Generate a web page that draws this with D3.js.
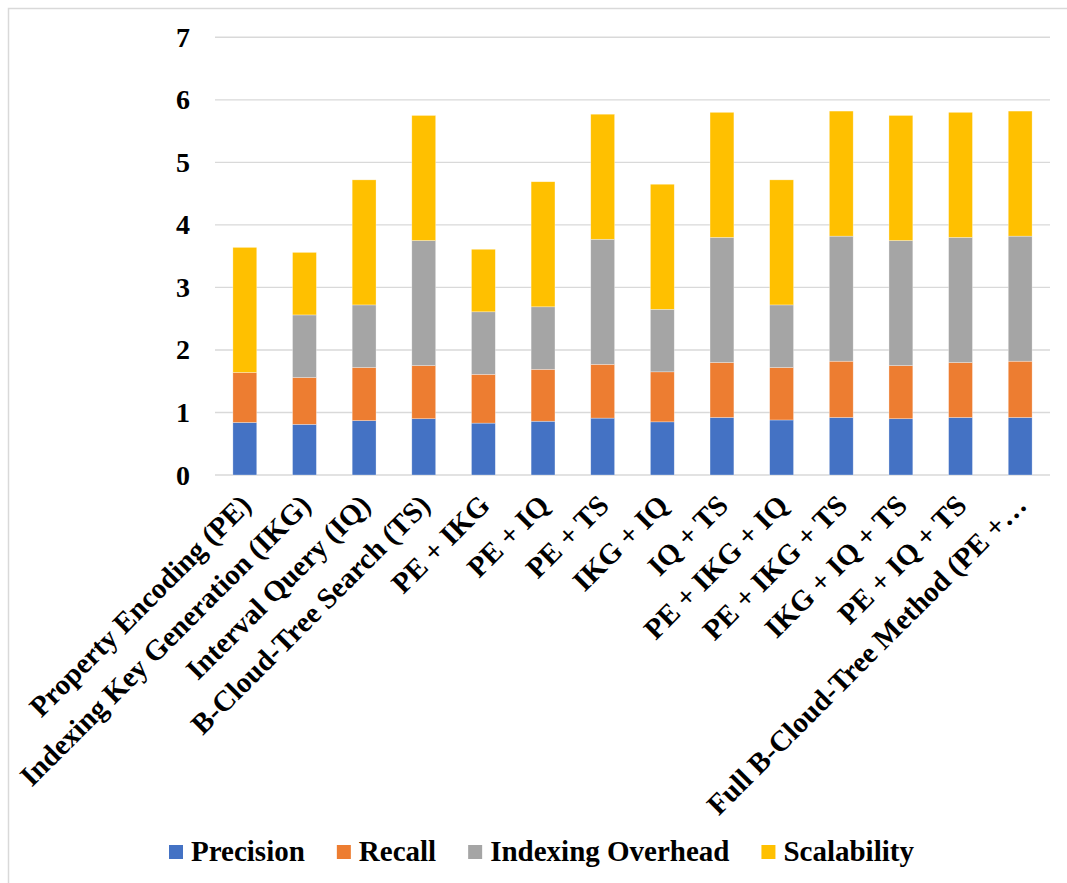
<!DOCTYPE html>
<html>
<head>
<meta charset="utf-8">
<script src="https://cdn.jsdelivr.net/npm/d3@7/dist/d3.min.js"></script>
<style>
  body { margin: 0; background: #fff; }
  svg text { font-family: "Liberation Serif", "Times New Roman", serif; font-weight: bold; fill: #000; }
</style>
</head>
<body>
<svg id="chart" width="1067" height="883"></svg>
<script>
// categories along the x axis
var categories = [
  "Property Encoding (PE)",
  "Indexing Key Generation (IKG)",
  "Interval Query (IQ)",
  "B-Cloud-Tree Search (TS)",
  "PE + IKG",
  "PE + IQ",
  "PE + TS",
  "IKG + IQ",
  "IQ + TS",
  "PE + IKG + IQ",
  "PE + IKG + TS",
  "IKG + IQ + TS",
  "PE + IQ + TS",
  "Full B-Cloud-Tree Method (PE + IKG + IQ + TS)"
];

// series
var precision   = [0.84, 0.81, 0.87, 0.90, 0.83, 0.86, 0.91, 0.85, 0.92, 0.88, 0.92, 0.90, 0.92, 0.92];
var recall      = [0.80, 0.75, 0.85, 0.85, 0.78, 0.83, 0.86, 0.80, 0.88, 0.84, 0.90, 0.85, 0.88, 0.90];
var overhead    = [0, 1, 1, 2, 1, 1, 2, 1, 2, 1, 2, 2, 2, 2];
var scalability = [2, 1, 2, 2, 1, 2, 2, 2, 2, 2, 2, 2, 2, 2];

var seriesNames = ["Precision", "Recall", "Indexing Overhead", "Scalability"];
var seriesColors = ["#4472C4", "#ED7D31", "#A5A5A5", "#FFC000"];
var yTicks = [0, 1, 2, 3, 4, 5, 6, 7];

var svg = d3.select("#chart");
var fontSize = 29;

// outer chart border (only left/top visible in the frame)
svg.append("rect")
    .attr("x", 8.5).attr("y", 8.5)
    .attr("width", 1090).attr("height", 900)
    .attr("fill", "none")
    .attr("stroke", "#d9d9d9")
    .attr("stroke-width", 1.5);

var x = d3.scaleBand()
    .domain(categories)
    .range([215, 1050])
    .paddingInner(0.6)
    .paddingOuter(0.3);

var y = d3.scaleLinear()
    .domain([0, 7])
    .range([475, 37.3]);

// build rows for the stack
var rows = categories.map(function(c, i) {
  return {
    cat: c,
    "Precision": precision[i],
    "Recall": recall[i],
    "Indexing Overhead": overhead[i],
    "Scalability": scalability[i]
  };
});

var stacked = d3.stack().keys(seriesNames)(rows);

// gridlines
svg.append("g").selectAll("line")
    .data(yTicks)
  .enter().append("line")
    .attr("x1", 215).attr("x2", 1050)
    .attr("y1", function(d) { return y(d); })
    .attr("y2", function(d) { return y(d); })
    .attr("stroke", "#d9d9d9")
    .attr("stroke-width", 1.4);

// y tick labels
svg.append("g").selectAll("text")
    .data(yTicks)
  .enter().append("text")
    .attr("x", 190)
    .attr("y", function(d) { return y(d); })
    .attr("dy", "0.34em")
    .attr("text-anchor", "end")
    .style("font-size", "28px")
    .text(function(d) { return d; });

// bars
svg.append("g").selectAll("g")
    .data(stacked)
  .enter().append("g")
    .attr("fill", function(d, i) { return seriesColors[i]; })
  .selectAll("rect")
    .data(function(d) { return d; })
  .enter().append("rect")
    .attr("x", function(d) { return x(d.data.cat); })
    .attr("width", x.bandwidth())
    .attr("y", function(d) { return y(d[1]); })
    .attr("height", function(d) { return y(d[0]) - y(d[1]); })
    .attr("stroke", "#ffffff")
    .attr("stroke-opacity", 0.5)
    .attr("stroke-width", 0.6);

// Excel cuts long labels short with an ellipsis
function shortLabel(s) {
  return s.length > 32 ? s.slice(0, 30) + "\u2026" : s;
}

// rotated category labels
svg.append("g").selectAll("text")
    .data(categories)
  .enter().append("text")
    .attr("transform", function(d) {
      var cx = x(d) + x.bandwidth() / 2;
      return "translate(" + (cx + 8) + ",507) rotate(-45)";
    })
    .attr("text-anchor", "end")
    .style("font-size", fontSize + "px")
    .text(function(d) { return shortLabel(d); });

// legend
var legend = svg.append("g");
var lx = 169;
seriesNames.forEach(function(name, i) {
  legend.append("rect")
      .attr("x", lx).attr("y", 845)
      .attr("width", 14).attr("height", 14)
      .attr("fill", seriesColors[i]);
  var t = legend.append("text")
      .attr("x", lx + 22).attr("y", 861)
      .style("font-size", fontSize + "px")
      .text(name);
  lx += 22 + t.node().getComputedTextLength() + 32;
});
</script>
</body>
</html>
